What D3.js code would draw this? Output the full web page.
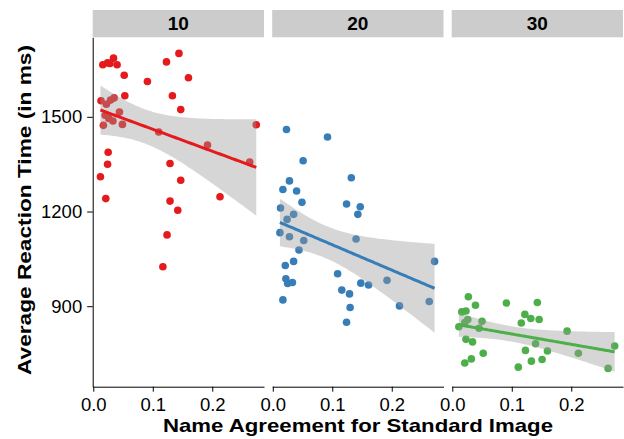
<!DOCTYPE html>
<html>
<head>
<meta charset="utf-8">
<script src="https://cdn.jsdelivr.net/npm/d3@7"></script>
<style>
  body { margin: 0; background: #fff; }
  text { font-family: "Liberation Sans", Arial, Helvetica, sans-serif; }
</style>
</head>
<body>
<div id="chart"></div>
<script>
// facet labels + colours (Set1)
const facets = ["10", "20", "30"];
const colors = ["#E41A1C", "#377EB8", "#4DAF4A"];

// name agreement (x) / avg reaction time (y)
const x10 = [0.016,0.024,0.034,0.040,0.028, 0.052,0.091,0.123,0.144,0.160, 0.133,0.147,0.053,
    0.013,0.022,0.029,0.035,0.044,0.020,0.033,0.017,0.026,0.049,
    0.110,0.192,0.274,0.263, 0.025,0.024,0.012,0.129,0.147,0.021,0.129,0.142,0.213,0.124,0.117];
const y10 = [1665,1671,1686,1665,1669, 1632,1612,1674,1701,1624, 1567,1523,1567,
    1551,1540,1553,1560,1515,1505,1487,1473,1495,1476,
    1452,1411,1475,1357, 1388,1350,1310,1352,1299,1241,1233,1204,1247,1126,1025];

const x20 = [0.023,0.092,0.051,0.132,0.028,0.017,0.040,0.049,0.124,0.147,0.143,0.013,0.024,0.035,
    0.012,0.028,0.052,0.140,0.044,0.035,0.021,0.272,0.109,0.022,0.025,0.033,0.148,0.161,0.192,
    0.116,0.129,0.017,0.213,0.263,0.130,0.124];
const y20 = [1460,1436,1361,1307,1297,1270,1265,1229,1224,1215,1191,1211,1175,1191,
    1133,1120,1108,1113,1078,1042,1029,1042,1003,987,972,975,973,967,982,
    951,939,920,901,915,896,849];

const x30 = [0.027,0.039,0.091,0.143,0.016,0.023,0.122,0.132,0.146,0.116,0.050,0.011,0.021,0.026,0.045,
    0.193,0.023,0.034,0.140,0.123,0.160,0.212,0.273,0.052,0.032,0.021,0.133,0.151,0.111,0.262];
const y30 = [930,903,910,912,882,885,874,861,858,847,852,835,848,858,830,
    821,795,787,781,760,758,751,774,751,733,720,726,731,707,703];

const xs = [x10, x20, x30];
const ys = [y10, y20, y30];

const yTicks = [900, 1200, 1500];
const xTicks = [0, 0.1, 0.2];

const width = 624, height = 439;
const panel = {left: 92.7, top: 37.3, w: 171.3, h: 349.4, step: 179.5};

const svg = d3.select("#chart").append("svg")
    .attr("width", width)
    .attr("height", height);

const x = d3.scaleLinear().domain([-0.001, 0.287]).range([0, panel.w]);
const y = d3.scaleLinear().domain([645, 1752]).range([panel.h, 0]);

// lm fit + 95% band like geom_smooth(method = "lm")
function fitLm(xv, yv) {
    let n = xv.length;
    let mx = d3.mean(xv), my = d3.mean(yv);
    let sxx = d3.sum(xv, d => (d - mx) * (d - mx));
    let sxy = d3.sum(xv.map((d, i) => (d - mx) * (yv[i] - my)));
    let b = sxy / sxx, a = my - b * mx;
    let sse = d3.sum(xv.map((d, i) => Math.pow(yv[i] - (a + b * d), 2)));
    let s = Math.sqrt(sse / (n - 2));
    let df = n - 2, z = 1.959964;
    let t = z + (z*z*z + z) / (4*df) + (5*Math.pow(z,5) + 16*z*z*z + 3*z) / (96*df*df);
    let lo = d3.min(xv), hi = d3.max(xv);
    let pts = d3.range(81).map(i => {
        let xx = lo + (hi - lo) * i / 80;
        let fit = a + b * xx;
        let se = s * Math.sqrt(1 / n + (xx - mx) * (xx - mx) / sxx);
        return {x: xx, y: fit, lo: fit - t * se, hi: fit + t * se};
    });
    return pts;
}

facets.forEach((lab, k) => {
    let g = svg.append("g")
        .attr("transform", `translate(${panel.left + k * panel.step}, ${panel.top})`);

    // strip
    svg.append("rect")
        .attr("x", panel.left + k * panel.step)
        .attr("y", 10)
        .attr("width", panel.w)
        .attr("height", panel.top - 10)
        .attr("fill", "#cccccc");
    svg.append("text")
        .attr("x", panel.left + k * panel.step + panel.w / 2)
        .attr("y", 23.7)
        .attr("dy", "0.35em")
        .attr("text-anchor", "middle")
        .style("font-size", "19px")
        .style("font-weight", "bold")
        .attr("fill", "#000")
        .text(lab);

    let data = xs[k].map((d, i) => ({x: d, y: ys[k][i]}));

    g.selectAll("circle")
        .data(data)
        .enter().append("circle")
        .attr("cx", d => x(d.x))
        .attr("cy", d => y(d.y))
        .attr("r", 3.8)
        .attr("fill", colors[k]);

    let fit = fitLm(xs[k], ys[k]);

    g.append("path")
        .datum(fit)
        .attr("d", d3.area().x(d => x(d.x)).y0(d => y(d.lo)).y1(d => y(d.hi)))
        .attr("fill", "#999999")
        .attr("fill-opacity", 0.4);

    g.append("path")
        .datum(fit)
        .attr("d", d3.line().x(d => x(d.x)).y(d => y(d.y)))
        .attr("fill", "none")
        .attr("stroke", colors[k])
        .attr("stroke-width", 3);

    // x axis on every panel
    let xAxis = g.append("g")
        .attr("transform", `translate(0, ${panel.h})`)
        .call(d3.axisBottom(x).tickValues(xTicks).tickFormat(d3.format(".1f")).tickSize(5).tickSizeOuter(0).tickPadding(6));
    xAxis.select(".domain").attr("stroke", "#000").attr("stroke-width", 1);
    xAxis.selectAll(".tick line").attr("stroke", "#000");
    xAxis.selectAll("text").style("font-size", "18.5px").attr("fill", "#000");

    if (k == 0) {
        let yAxis = g.append("g")
            .call(d3.axisLeft(y).tickValues(yTicks).tickFormat(d3.format("d")).tickSize(5.5).tickSizeOuter(0).tickPadding(5));
        yAxis.select(".domain").attr("stroke", "#000").attr("stroke-width", 1);
        yAxis.selectAll(".tick line").attr("stroke", "#000");
        yAxis.selectAll("text").style("font-size", "18.5px").attr("fill", "#000");
    }
});

// axis titles
svg.append("text")
    .attr("x", 358)
    .attr("y", 432)
    .attr("text-anchor", "middle")
    .attr("textLength", 390)
    .attr("lengthAdjust", "spacingAndGlyphs")
    .style("font-size", "19px")
    .style("font-weight", "bold")
    .text("Name Agreement for Standard Image");

svg.append("text")
    .attr("transform", "translate(31, 210) rotate(-90)")
    .attr("text-anchor", "middle")
    .attr("textLength", 330)
    .attr("lengthAdjust", "spacingAndGlyphs")
    .style("font-size", "19px")
    .style("font-weight", "bold")
    .text("Average Reaction Time (in ms)");
</script>
</body>
</html>
